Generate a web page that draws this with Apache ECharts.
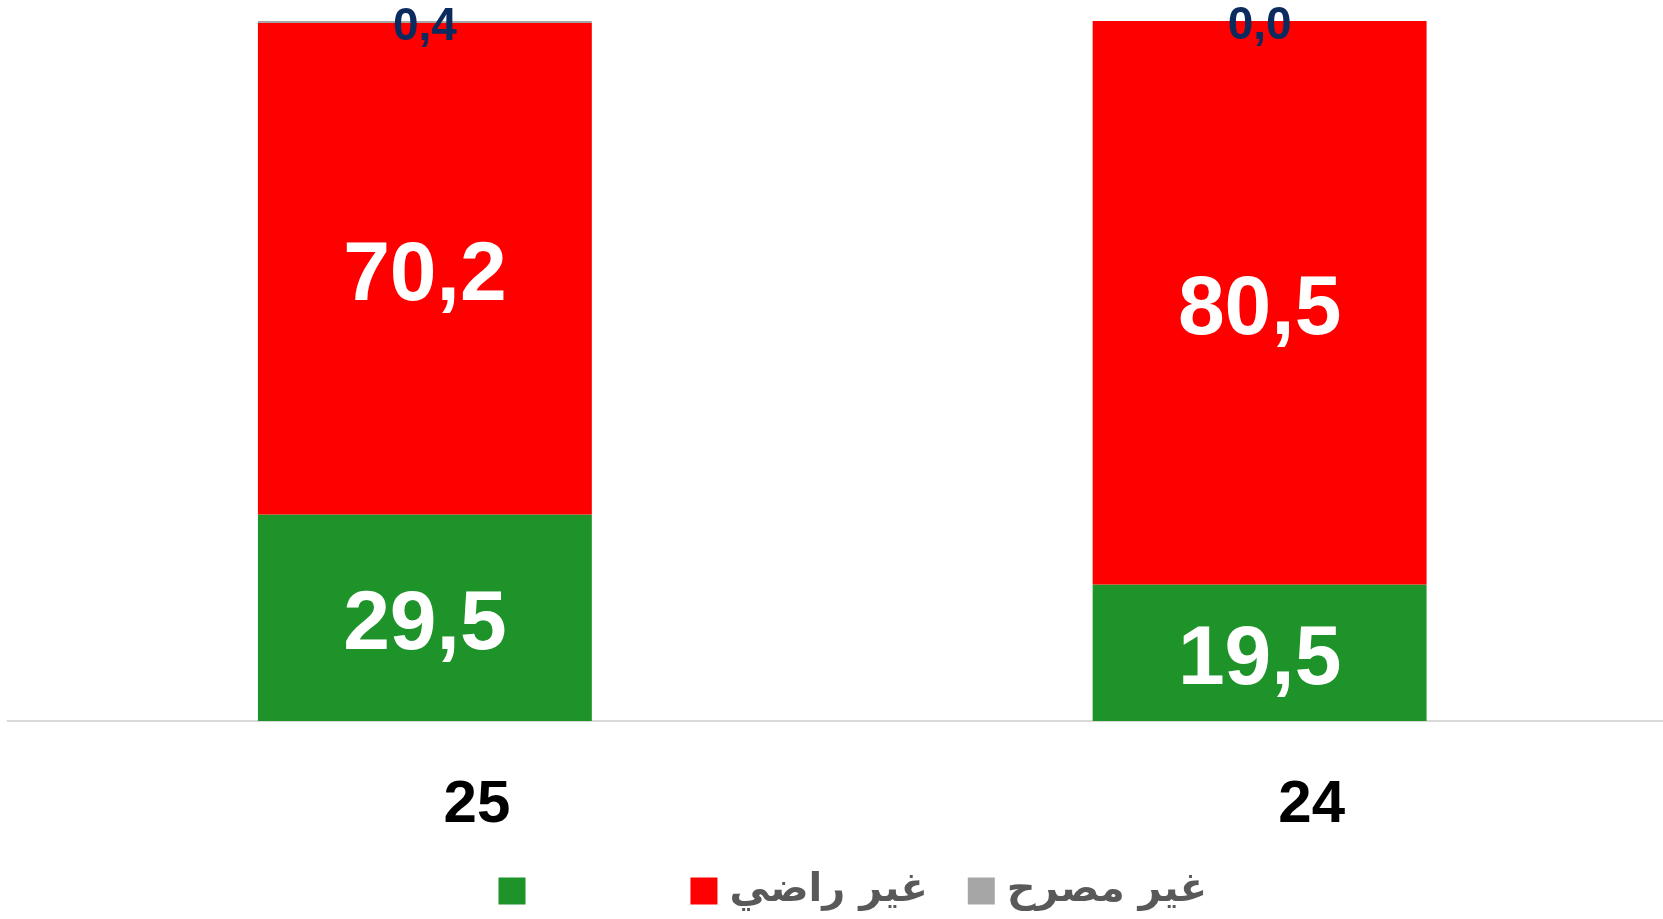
<!DOCTYPE html>
<html>
<head>
<meta charset="utf-8">
<script src="https://cdn.jsdelivr.net/npm/echarts@6/dist/echarts.min.js"></script>
<style>
  html, body { margin: 0; padding: 0; background: #fff; }
  #chart { width: 1663px; height: 919px; }
</style>
</head>
<body>
<div id="chart"></div>
<script>
// data
const categories = ['25', '24'];
const satisfied = [29.5, 19.5];
const notSatisfied = [70.2, 80.5];
const undeclared = [0.4, 0.0];

const seriesNames = ['راضي', 'غير راضي', 'غير مصرح'];
const colors = ['#1D932A', '#FF0000', '#A6A6A6'];

const fmt = (p) => p.value.toFixed(1).replace('.', ',');

const bigLabel = {
  show: true,
  position: 'inside',
  offset: [0, 8],
  color: '#fff',
  fontFamily: 'Liberation Sans, Arial, sans-serif',
  fontWeight: 'bold',
  fontSize: 84,
  formatter: fmt
};

const chart = echarts.init(document.getElementById('chart'));
chart.setOption({
  animation: false,
  grid: { left: 7.5, right: -14, top: 21, bottom: 198, outerBoundsMode: 'none' },
  legend: {
    left: 493.5,
    top: 866,
    itemWidth: 27,
    itemHeight: 27,
    itemGap: 40,
    icon: 'rect',
    textStyle: {
      color: '#595959',
      fontSize: 40,
      fontWeight: 'bold',
      fontFamily: 'DejaVu Sans, sans-serif',
      padding: [0, 0, 0, 7]
    },
    data: [
      { name: seriesNames[0], textStyle: { color: '#ffffff', fontSize: 39 } },
      { name: seriesNames[1] },
      { name: seriesNames[2] }
    ]
  },
  xAxis: {
    type: 'category',
    data: categories,
    axisLine: { lineStyle: { color: '#D9D9D9', width: 2 } },
    axisTick: { show: false },
    axisLabel: {
      margin: 54,
      color: '#000',
      fontFamily: 'Liberation Sans, Arial, sans-serif',
      fontWeight: 'bold',
      fontSize: 60,
      padding: [0, 0, 0, 104]
    }
  },
  yAxis: {
    type: 'value',
    min: 0,
    max: 100,
    show: false,
    splitLine: { show: false }
  },
  series: [
    {
      name: seriesNames[0],
      type: 'bar',
      stack: 'total',
      barWidth: '40%',
      itemStyle: { color: colors[0] },
      label: bigLabel,
      data: satisfied
    },
    {
      name: seriesNames[1],
      type: 'bar',
      stack: 'total',
      itemStyle: { color: colors[1] },
      label: bigLabel,
      data: notSatisfied
    },
    {
      name: seriesNames[2],
      type: 'bar',
      stack: 'total',
      itemStyle: { color: colors[2] },
      label: {
        show: true,
        position: 'inside',
        offset: [0, 5],
        color: '#0B2A5E',
        fontFamily: 'Liberation Sans, Arial, sans-serif',
        fontWeight: 'bold',
        fontSize: 46,
        formatter: fmt
      },
      data: undeclared
    }
  ]
});
</script>
</body>
</html>
